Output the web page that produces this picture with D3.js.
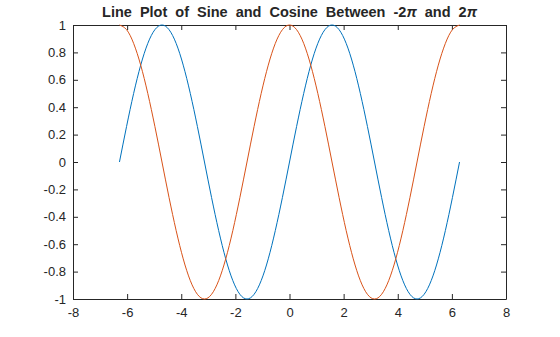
<!DOCTYPE html>
<html lang="en">
<head>
<meta charset="utf-8">
<title>Sine and Cosine</title>
<script src="https://d3js.org/d3.v7.min.js"></script>
<style>
    body { margin: 0; background: #fff; }
    text { font-family: 'Liberation Sans', Arial, sans-serif; fill: #262626; }
    .axis path, .axis line { stroke: #262626; }
    .axis text { font-size: 13px; }
    .title { font-size: 14.5px; font-weight: bold; word-spacing: 4px; }
</style>
</head>
<body>
<svg width="560" height="337"></svg>
<script>
// samples every pi/12 from -2pi to 2pi
var xs = [-6.283, -6.021, -5.760, -5.498, -5.236, -4.974, -4.712, -4.451, -4.189, -3.927,
          -3.665, -3.403, -3.142, -2.880, -2.618, -2.356, -2.094, -1.833, -1.571, -1.309,
          -1.047, -0.785, -0.524, -0.262, 0, 0.262, 0.524, 0.785, 1.047, 1.309,
          1.571, 1.833, 2.094, 2.356, 2.618, 2.880, 3.142, 3.403, 3.665, 3.927,
          4.189, 4.451, 4.712, 4.974, 5.236, 5.498, 5.760, 6.021, 6.283];
var sineVals = [0, 0.259, 0.5, 0.707, 0.866, 0.966, 1, 0.966, 0.866, 0.707,
                0.5, 0.259, 0, -0.259, -0.5, -0.707, -0.866, -0.966, -1, -0.966,
                -0.866, -0.707, -0.5, -0.259, 0, 0.259, 0.5, 0.707, 0.866, 0.966,
                1, 0.966, 0.866, 0.707, 0.5, 0.259, 0, -0.259, -0.5, -0.707,
                -0.866, -0.966, -1, -0.966, -0.866, -0.707, -0.5, -0.259, 0];
var cosineVals = [1, 0.966, 0.866, 0.707, 0.5, 0.259, 0, -0.259, -0.5, -0.707,
                  -0.866, -0.966, -1, -0.966, -0.866, -0.707, -0.5, -0.259, 0, 0.259,
                  0.5, 0.707, 0.866, 0.966, 1, 0.966, 0.866, 0.707, 0.5, 0.259,
                  0, -0.259, -0.5, -0.707, -0.866, -0.966, -1, -0.966, -0.866, -0.707,
                  -0.5, -0.259, 0, 0.259, 0.5, 0.707, 0.866, 0.966, 1];
var xTicks = [-8, -6, -4, -2, 0, 2, 4, 6, 8];
var yTicks = [-1, -0.8, -0.6, -0.4, -0.2, 0, 0.2, 0.4, 0.6, 0.8, 1];

var svg = d3.select("svg"),
    margin = {top: 25, right: 54, bottom: 38, left: 73},
    width = +svg.attr("width") - margin.left - margin.right,
    height = +svg.attr("height") - margin.top - margin.bottom,
    g = svg.append("g").attr("transform", "translate(" + margin.left + "," + margin.top + ")");

var x = d3.scaleLinear().domain([-8, 8]).range([0, width]);
var y = d3.scaleLinear().domain([-1, 1]).range([height, 0]);

var fmt = function(d) { return String(+d.toFixed(1)); };

g.append("g")
    .attr("class", "axis")
    .attr("transform", "translate(0," + height + ")")
    .call(d3.axisBottom(x).tickValues(xTicks).tickSizeInner(-5).tickSizeOuter(0).tickPadding(9).tickFormat(fmt));
g.append("g")
    .attr("class", "axis")
    .call(d3.axisLeft(y).tickValues(yTicks).tickSizeInner(-5).tickSizeOuter(0).tickPadding(7).tickFormat(fmt));
g.append("g")
    .attr("class", "axis")
    .call(d3.axisTop(x).tickValues(xTicks).tickSizeInner(-5).tickSizeOuter(0).tickFormat(""));
g.append("g")
    .attr("class", "axis")
    .attr("transform", "translate(" + width + ",0)")
    .call(d3.axisRight(y).tickValues(yTicks).tickSizeInner(-5).tickSizeOuter(0).tickFormat(""));

var line = d3.line()
    .x(function(d) { return x(d[0]); })
    .y(function(d) { return y(d[1]); })
    .curve(d3.curveNatural);

g.append("path")
    .datum(xs.map(function(v, i) { return [v, sineVals[i]]; }))
    .attr("fill", "none")
    .attr("stroke", "#0072BD")
    .attr("stroke-width", 1)
    .attr("d", line);

g.append("path")
    .datum(xs.map(function(v, i) { return [v, cosineVals[i]]; }))
    .attr("fill", "none")
    .attr("stroke", "#D95319")
    .attr("stroke-width", 1)
    .attr("d", line);

var title = svg.append("text")
    .attr("class", "title")
    .attr("x", margin.left + width / 2)
    .attr("y", 17)
    .attr("text-anchor", "middle");
title.append("tspan").text("Line Plot of Sine and Cosine Between -2");
title.append("tspan").attr("font-style", "italic").text("\u03c0");
title.append("tspan").text(" and 2");
title.append("tspan").attr("font-style", "italic").text("\u03c0");
</script>
</body>
</html>
